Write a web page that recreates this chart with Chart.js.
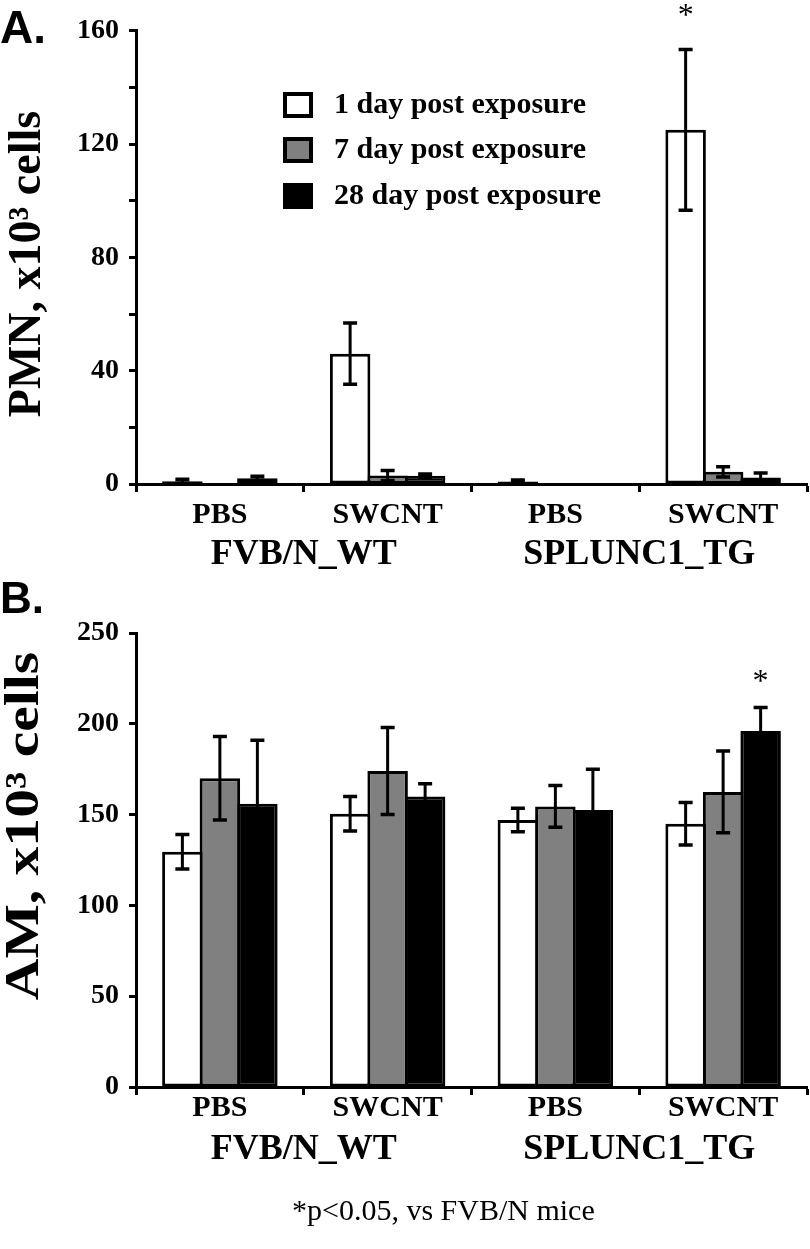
<!DOCTYPE html>
<html><head><meta charset="utf-8">
<script src="https://cdn.jsdelivr.net/npm/chart.js@4.4.1/dist/chart.umd.min.js"></script>
<style>
html,body{margin:0;padding:0;background:#fff;}
body{width:810px;height:1249px;position:relative;overflow:hidden;}
#wrapA{position:absolute;left:0;top:0;width:810px;height:570px;}
#wrapB{position:absolute;left:0;top:570px;width:810px;height:679px;}
.panel{position:absolute;font-family:'Liberation Sans',Arial,sans-serif;font-weight:bold;line-height:1;color:#000;}
#foot{position:absolute;left:292px;top:1195px;font-family:'Liberation Serif','Times New Roman',serif;font-size:30px;line-height:1;white-space:nowrap;color:#000;}
</style></head><body>
<div id="wrapA"><canvas id="cA" width="810" height="570"></canvas></div>
<div id="wrapB"><canvas id="cB" width="810" height="679"></canvas></div>
<div class="panel" style="left:0;top:4px;font-size:46px;">A.</div>
<div class="panel" style="left:0;top:576px;font-size:44px;">B.</div>
<div id="foot">*p&lt;0.05, vs FVB/N mice</div>
<script>
// ---- data ----
const treatments = ['PBS', 'SWCNT', 'PBS', 'SWCNT'];
const strains = ['FVB/N_WT', 'SPLUNC1_TG'];
const seriesLabels = ['1 day post exposure', '7 day post exposure', '28 day post exposure'];
const seriesColors = ['#ffffff', '#808080', '#000000'];

// Panel A: PMN, x10^3 cells
const pmnDay1 = [1.0, 46, 0.9, 125];
const pmnDay7 = [0, 3.0, 0, 4.3];
const pmnDay28 = [2.0, 2.9, 0, 2.3];
const pmnErrDay1 = [0.7, 10.8, 0.5, 28.4];
const pmnErrDay7 = [0, 1.8, 0, 1.8];
const pmnErrDay28 = [0.7, 0.6, 0, 1.6];
const pmnLabelTicks = [0, 40, 80, 120, 160];

// Panel B: AM, x10^3 cells
const amDay1 = [129.5, 150.5, 147, 145];
const amDay7 = [170, 174, 154.5, 162.5];
const amDay28 = [156, 160, 152.5, 196];
const amErrDay1 = [9.5, 9.5, 6.5, 11.7];
const amErrDay7 = [23, 24, 11.5, 22.5];
const amErrDay28 = [35, 7, 22.5, 13];
const amLabelTicks = [0, 50, 100, 150, 200, 250];

// significance markers: [series index, category index]
const sigA = [[0, 3]];
const sigB = [[2, 3]];

const SERIF = '"Liberation Serif", "Times New Roman", serif';

function decorPlugin(cfg) {
  return {
    id: 'decor',
    afterDatasetsDraw(chart) {
      const ctx = chart.ctx, ys = chart.scales.y;
      ctx.save();
      ctx.strokeStyle = '#000';
      ctx.lineCap = 'butt';
      chart.data.datasets.forEach((ds, d) => {
        const meta = chart.getDatasetMeta(d);
        ds.data.forEach((v, i) => {
          const e = cfg.errors[d][i];
          if (!e) return;
          const x = meta.data[i].x;
          const yt = ys.getPixelForValue(v + e);
          const yb = ys.getPixelForValue(Math.max(v - e, 0));
          ctx.lineWidth = 3;
          ctx.beginPath(); ctx.moveTo(x, yt); ctx.lineTo(x, yb); ctx.stroke();
          ctx.lineWidth = 3.5;
          ctx.beginPath();
          ctx.moveTo(x - 7, yt); ctx.lineTo(x + 7, yt);
          ctx.moveTo(x - 7, yb); ctx.lineTo(x + 7, yb);
          ctx.stroke();
        });
      });
      // significance asterisks
      ctx.fillStyle = '#000';
      ctx.font = '32px ' + SERIF;
      ctx.textAlign = 'center';
      ctx.textBaseline = 'alphabetic';
      cfg.sig.forEach(([d, i]) => {
        const v = chart.data.datasets[d].data[i] + cfg.errors[d][i];
        const x = chart.getDatasetMeta(d).data[i].x;
        const yc = ys.getPixelForValue(v) - cfg.starOffset;
        ctx.fillText('*', x, yc + 15);
      });
      ctx.restore();
    },
    afterDraw(chart) {
      const ctx = chart.ctx;
      ctx.save();
      // y axis title
      ctx.translate(cfg.titleX, cfg.titleY);
      ctx.rotate(-Math.PI / 2);
      ctx.scale(cfg.titleStretch, 1);
      ctx.font = 'bold ' + cfg.titleSize + 'px ' + SERIF;
      ctx.fillStyle = '#000';
      ctx.textAlign = 'center';
      ctx.textBaseline = 'middle';
      ctx.fillText(cfg.title, 0, 0);
      ctx.restore();
      if (cfg.legend) {
        ctx.save();
        const L = cfg.legend;
        chart.data.datasets.forEach((ds, d) => {
          const cy = L.rows[d];
          ctx.fillStyle = ds.backgroundColor;
          ctx.fillRect(L.x, cy - 13, 30, 26);
          ctx.strokeStyle = '#000';
          ctx.lineWidth = 4;
          ctx.strokeRect(L.x + 2, cy - 11, 26, 22);
          ctx.fillStyle = '#000';
          ctx.font = 'bold 30px ' + SERIF;
          ctx.textAlign = 'left';
          ctx.textBaseline = 'middle';
          ctx.fillText(ds.label, L.x + 51, cy);
        });
        ctx.restore();
      }
    }
  };
}

function makeChart(id, p) {
  const datasets = p.values.map((vals, k) => ({
    label: seriesLabels[k],
    data: vals,
    backgroundColor: seriesColors[k],
    borderColor: '#000',
    borderWidth: 3,
    borderSkipped: false,
    categoryPercentage: 0.6706,
    barPercentage: 1.08,
    xAxisID: 'x'
  }));
  return new Chart(document.getElementById(id), {
    type: 'bar',
    data: { labels: treatments, datasets },
    options: {
      responsive: false,
      animation: false,
      events: [],
      layout: { padding: p.padding },
      plugins: { legend: { display: false }, tooltip: { enabled: false } },
      scales: {
        x: {
          type: 'category',
          position: 'bottom',
          weight: 0,
          offset: true,
          grid: { display: true, offset: true, drawOnChartArea: false, drawTicks: true, tickLength: 8, tickWidth: 3, tickColor: '#000', color: '#000' },
          border: { display: true, color: '#000', width: 3 },
          ticks: { color: '#000', font: { family: SERIF, size: 30, weight: 'bold', lineHeight: 0.8 }, padding: p.xPad, maxRotation: 0, autoSkip: false },
          afterFit: s => { s.height = p.xHeight; }
        },
        x2: {
          type: 'category',
          position: 'bottom',
          weight: 1,
          labels: strains,
          offset: true,
          grid: { display: false, drawTicks: false },
          border: { display: false },
          ticks: { color: '#000', font: { family: SERIF, size: 36, weight: 'bold', lineHeight: 1.2 }, padding: p.x2Pad, maxRotation: 0, autoSkip: false },
          afterFit: s => { s.height = p.x2Height; }
        },
        y: {
          min: 0, max: p.max,
          grid: { display: true, drawOnChartArea: false, drawTicks: true, tickLength: 7, tickWidth: 3, tickColor: '#000', color: '#000' },
          border: { display: true, color: '#000', width: 3 },
          ticks: {
            stepSize: p.step, color: '#000', padding: 10,
            font: { family: SERIF, size: 28, weight: 'bold' },
            callback: v => (p.labelTicks.includes(v) ? String(v) : '')
          },
          afterFit: s => { s.width = 136; }
        }
      }
    },
    plugins: [decorPlugin(p.decor)]
  });
}

makeChart('cA', {
  values: [pmnDay1, pmnDay7, pmnDay28],
  max: 160, step: 20, labelTicks: pmnLabelTicks,
  padding: { top: 30.7, right: 3, left: 0, bottom: 0 },
  xPad: 11, xHeight: 46, x2Pad: 3.4, x2Height: 40,
  decor: {
    errors: [pmnErrDay1, pmnErrDay7, pmnErrDay28],
    sig: sigA, starOffset: 39,
    title: 'PMN, x10\u00B3 cells', titleSize: 46, titleX: 28.5, titleY: 264, titleStretch: 1,
    legend: { x: 283, rows: [105, 150, 196] }
  }
});

makeChart('cB', {
  values: [amDay1, amDay7, amDay28],
  max: 250, step: 50, labelTicks: amLabelTicks,
  padding: { top: 63, right: 3, left: 0, bottom: 81 },
  xPad: 1, xHeight: 41, x2Pad: 0, x2Height: 40,
  decor: {
    errors: [amErrDay1, amErrDay7, amErrDay28],
    sig: sigB, starOffset: 31,
    title: 'AM, x10\u00B3 cells', titleSize: 48, titleX: 26, titleY: 256, titleStretch: 1.2
  }
});
</script>
</body></html>
